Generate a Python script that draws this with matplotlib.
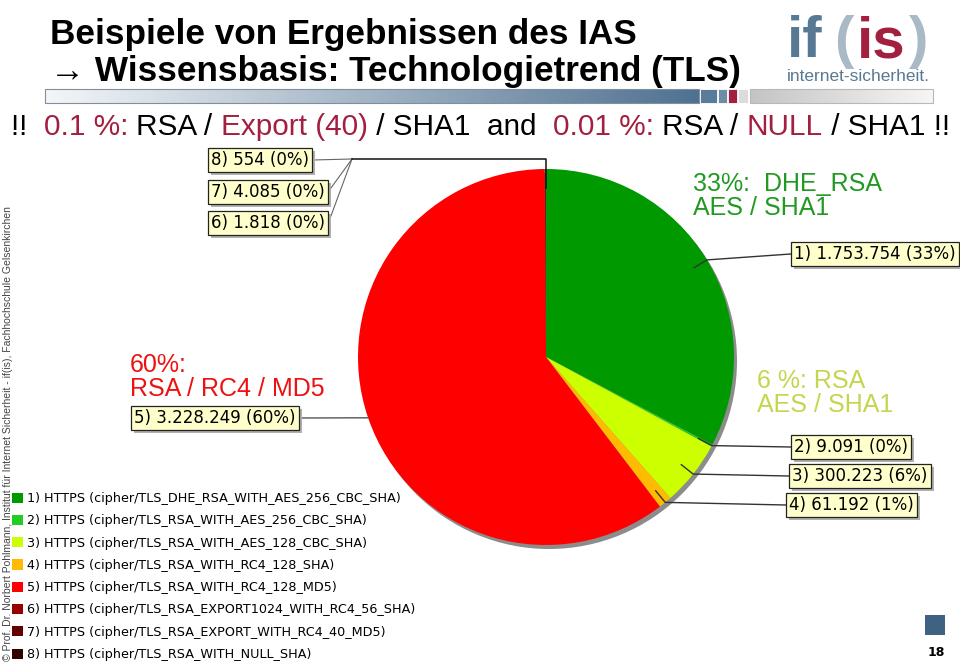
import numpy as np
import matplotlib
matplotlib.use('Agg')
import matplotlib.pyplot as plt
from matplotlib import font_manager
from matplotlib.colors import LinearSegmentedColormap
from matplotlib.patches import Circle, Rectangle

############### Data ################
cipher_names = ['TLS_DHE_RSA_WITH_AES_256_CBC_SHA', 'TLS_RSA_WITH_AES_256_CBC_SHA',
                'TLS_RSA_WITH_AES_128_CBC_SHA', 'TLS_RSA_WITH_RC4_128_SHA',
                'TLS_RSA_WITH_RC4_128_MD5', 'TLS_RSA_EXPORT1024_WITH_RC4_56_SHA',
                'TLS_RSA_EXPORT_WITH_RC4_40_MD5', 'TLS_RSA_WITH_NULL_SHA']
counts = [1753754, 9091, 300223, 61192, 3228249, 1818, 4085, 554]
percent_shown = [33, 0, 6, 1, 60, 0, 0, 0]
slice_colors = ['#009900', '#22cc22', '#ccff00', '#ffbb00', '#ff0000', '#990000', '#660000', '#330000']

title_1 = 'Beispiele von Ergebnissen des IAS'
title_2 = '\u2192 Wissensbasis: Technologietrend (TLS)'
RED = '#a31f40'
subtitle_parts = [('!!  ', 'black'), ('0.1 %: ', RED), ('RSA / ', 'black'), ('Export (40)', RED),
                  (' / SHA1  and  ', 'black'), ('0.01 %: ', RED), ('RSA / ', 'black'),
                  ('NULL', RED), (' / SHA1 !!', 'black')]
callouts = [('60%:\nRSA / RC4 / MD5', '#ee1111', 130, 353),
            ('33%:  DHE_RSA\nAES / SHA1', '#229922', 693, 172),
            ('6 %: RSA\nAES / SHA1', '#c5d54e', 757, 369)]
copyright = '\u00a9 Prof. Dr. Norbert Pohlmann, Institut f\u00fcr Internet Sicherheit - if(is), Fachhochschule Gelsenkirchen'

# label box layout: left x, center y (pixel coords)
box_pos = [(794, 254), (794, 447), (792, 476), (789, 505), (134, 418), (211, 223), (211, 192), (211, 160)]

############### Fonts ################
def pick(*names):
    for n in names:
        try:
            font_manager.findfont(font_manager.FontProperties(family=n), fallback_to_default=False)
            return n
        except ValueError:
            pass
    return 'DejaVu Sans'

SANS = pick('Liberation Sans', 'DejaVu Sans')
NARROW = pick('Liberation Sans Narrow', 'DejaVu Sans Condensed', 'Liberation Sans')

fig = plt.figure(figsize=(9.6, 6.63), dpi=100)
ax = fig.add_axes([0, 0, 1, 1])
rend = fig.canvas.get_renderer()


def width_of(s, **kw):
    t1 = ax.text(0, 0, s + '|', **kw)
    t2 = ax.text(0, 0, '|', **kw)
    w = t1.get_window_extent(rend).width - t2.get_window_extent(rend).width
    t1.remove()
    t2.remove()
    return w


def fit(s, target, **kw):
    return 20 * target / width_of(s, fontsize=20, **kw)


def draw_parts(x, y, parts, **kw):
    for s, c in parts:
        ax.text(x, y, s, color=c, ha='left', va='baseline', **kw)
        x += width_of(s, **kw)


############### Pie ################
cx, cy, R = 546, 357, 188
ax.add_patch(Circle((cx + 3, cy + 4), R, fc='#8c8c8c', ec='none', zorder=0))
wedges, _ = ax.pie(counts, colors=slice_colors, startangle=270, counterclock=True,
                   center=(cx, cy), radius=R, wedgeprops=dict(linewidth=0))
for w in wedges:
    w.set_zorder(1)
ax.set_xlim(0, 960)
ax.set_ylim(663, 0)

# label boxes and leader lines
LBL = 12
pad = 0.2 * LBL * 100 / 72
for i, w in enumerate(wedges):
    ang = np.deg2rad((w.theta1 + w.theta2) / 2)
    px, py = cx + R * np.cos(ang), cy + R * np.sin(ang)
    qx, qy = cx + 0.92 * R * np.cos(ang), cy + 0.92 * R * np.sin(ang)
    txt = '%d) %s (%d%%)' % (i + 1, format(counts[i], ',').replace(',', '.'), percent_shown[i])
    bx, by = box_pos[i]
    t = ax.text(bx, by, txt, fontsize=LBL, family='DejaVu Sans', ha='left', va='center', zorder=4,
                bbox=dict(boxstyle='square,pad=0.2', fc='#ffffcc', ec='#222222', lw=0.9))
    ext = t.get_window_extent(rend)
    x0, x1 = ext.x0 - pad, ext.x1 + pad
    top = 663 - ext.y1 - pad
    ax.add_patch(Rectangle((x0 + 3, top + 3), x1 - x0, ext.height + 2 * pad,
                           fc='#b0b0b0', ec='none', zorder=3))
    if i < 4:
        ax.plot([qx, px, x0], [qy, py, by], color='#333333', lw=1, zorder=2)
    elif i == 4:
        ax.plot([x1, px], [by, py], color='#555555', lw=1, zorder=2)
    else:
        ax.plot([x1, 352], [by, 159], color='#666666', lw=0.8, zorder=2)
ax.plot([352, cx, cx], [159, 159, 188], color='#111111', lw=1.1, zorder=2)

# legend
legend_labels = ['%d) HTTPS (cipher/%s)' % (i + 1, n) for i, n in enumerate(cipher_names)]
leg_size = fit(legend_labels[0], 372, family='DejaVu Sans')
leg = ax.legend(wedges, legend_labels, loc='upper left', bbox_to_anchor=(12 / 960, 1 - 492 / 663),
                frameon=False, prop={'family': 'DejaVu Sans', 'size': leg_size},
                handlelength=0.85, handleheight=0.85, handletextpad=0.35,
                labelspacing=0.73, borderpad=0, borderaxespad=0)

# callout texts
for s, c, x, y in callouts:
    ax.text(x, y, s, color=c, fontsize=18, family=SANS, ha='left', va='top', linespacing=1.0)

############### Header ################
tkw = dict(family=[NARROW, 'DejaVu Sans'], weight='bold')
tsize = min(fit(title_1, 675, **tkw), fit(title_2, 690, **tkw))
ax.text(50, 44, title_1, fontsize=tsize, va='baseline', **tkw)
ax.text(50, 81, title_2, fontsize=tsize, va='baseline', **tkw)

sub_text = ''.join(s for s, _ in subtitle_parts)
ssize = fit(sub_text, 938, family=NARROW)
draw_parts(11, 135, subtitle_parts, fontsize=ssize, family=NARROW)


def hbar(x0, x1, y0, y1, c0, c1, edge):
    cmap = LinearSegmentedColormap.from_list('g', [c0, c1])
    ax.imshow(np.linspace(0, 1, 256)[None, :], cmap=cmap, extent=(x0, x1, y1, y0),
              aspect='auto', interpolation='bilinear', zorder=1)
    ax.add_patch(Rectangle((x0, y0), x1 - x0, y1 - y0, fill=False, ec=edge, lw=0.8, zorder=2))


hbar(45, 699, 89, 103, '#f4f6f8', '#4f7191', '#7f8f9c')
ax.add_patch(Rectangle((700, 89), 17, 14, fc='#5a7c98', ec='white', lw=0.6))
ax.add_patch(Rectangle((718, 89), 9, 14, fc='#6d8ca6', ec='white', lw=0.6))
ax.add_patch(Rectangle((728, 89), 9, 14, fc='#a31f40', ec='white', lw=0.6))
ax.add_patch(Rectangle((738, 89), 10, 14, fc='#dcdcdc', ec='white', lw=0.6))
hbar(750, 933, 89, 103, '#c4c4c4', '#f6f6f6', '#b8b8b8')

# logo
logo_parts = [('if', '#587993', 787), ('(', '#a8b9c7', 834), ('is', '#a31f40', 857), (')', '#a8b9c7', 909)]
for s, c, x in logo_parts:
    ax.text(x, 57, s, color=c, fontsize=42, family=SANS, weight='bold', va='baseline')
isize = fit('internet-sicherheit.', 143, family=SANS)
ax.text(787, 81, 'internet-sicherheit.', fontsize=isize, family=SANS, color='#587993', va='baseline')

############### Footer ################
csize = fit(copyright, 452, family=SANS)
ax.text(8, 661, copyright, fontsize=csize, family=SANS, color='#444444', rotation=90,
        ha='center', va='bottom')
ax.add_patch(Rectangle((925, 615), 20, 20, fc='#3f6282', ec='none'))
ax.text(936, 652, '18', fontsize=9, family='DejaVu Sans', weight='bold', ha='center', va='center')

ax.set_xlim(0, 960)
ax.set_ylim(663, 0)
ax.axis('off')
fig.savefig('out.png', dpi=100, facecolor='white')
